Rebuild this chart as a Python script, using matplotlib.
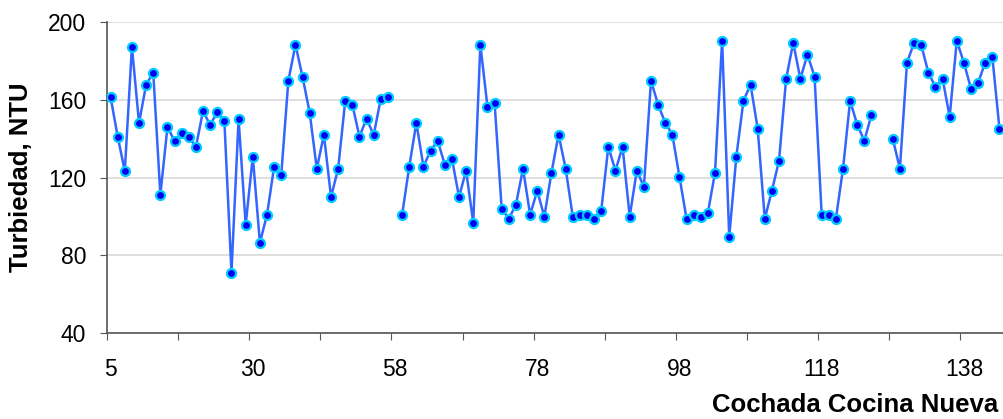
import numpy as np
import matplotlib
matplotlib.use('Agg')
import matplotlib.pyplot as plt

plt.rcParams['font.family'] = ['Liberation Sans', 'DejaVu Sans']

# turbidity per batch (category index), nan = no data
turbiedad = [161.3, 141, 123.3, 187.2, 148, 167.7, 173.8, 111.2, 145.9, 138.7,
             142.8, 141, 135.7, 154.1, 147, 153.5, 149.2, 71.1, 150, 95.8,
             130.7, 86.5, 100.9, 125.6, 121.3, 169.7, 188.2, 171.6, 153.3, 124.5,
             142, 110, 124.5, 159.4, 157.4, 141, 150.2, 141.8, 160.5, 161.5,
             np.nan, 100.9, 125.6, 148.1, 125.6, 133.8, 138.9, 126.6, 129.7, 110.1,
             123.5, 96.8, 188.2, 156.4, 158.4, 104, 98.8, 106, 124.5, 100.9,
             113.2, 99.9, 122.5, 142, 124.5, 99.9, 100.9, 100.9, 98.8, 103,
             135.8, 123.5, 135.8, 99.9, 123.5, 115.3, 169.7, 157.4, 148.1, 142,
             120.4, 98.8, 100.9, 99.9, 101.9, 122.5, 190.2, 89.6, 130.7, 159.4,
             167.7, 145.1, 98.8, 113.2, 128.6, 170.7, 189.2, 170.7, 183.1, 171.8,
             100.9, 100.9, 98.8, 124.5, 159.4, 147.1, 138.9, 152.2, np.nan, np.nan,
             139.9, 124.5, 179, 189.2, 188.2, 173.8, 166.6, 170.7, 151.2, 190.2,
             179, 165.6, 168.7, 179, 182, 145.1]
etiquetas_x = ['5', '30', '58', '78', '98', '118', '138']
pos_etiquetas = [0, 20, 40, 60, 80, 100, 120]
yticks = [40, 80, 120, 160, 200]

x = np.arange(len(turbiedad))

fig = plt.figure(figsize=(10.04, 4.19), dpi=100)
ax = fig.add_axes([0.1066, 0.2045, 0.8924, 0.7437])

ax.plot(x, turbiedad, color='#3366ff', lw=1.8, marker='o', ms=6.5,
        mfc='#0000ee', mec='#00ccff', mew=1.6, zorder=3)

ax.set_xlim(-0.5, len(turbiedad) - 0.5)
ax.set_ylim(40, 200)
ax.set_yticks(yticks)
ax.yaxis.grid(True, color='#d9d9d9', lw=1.2)
ax.set_axisbelow(True)

# tick marks between categories, labels on categories
ax.set_xticks(np.arange(-0.5, len(turbiedad) - 1, 10))
ax.set_xticklabels([])
ax.set_xticks(pos_etiquetas, minor=True)
ax.set_xticklabels(etiquetas_x, minor=True)
ax.tick_params(axis='x', which='major', length=5, color='#555555')
ax.tick_params(axis='x', which='minor', length=0, pad=18, labelsize=16.5)
ax.tick_params(axis='y', length=5, color='#555555', pad=10, labelsize=16.5)

for s in ['top', 'right']:
    ax.spines[s].set_visible(False)
for s in ['left', 'bottom']:
    ax.spines[s].set_color('#555555')
    ax.spines[s].set_linewidth(1.2)

ax.set_ylabel('Turbiedad, NTU', fontsize=18.5, fontweight='bold')
ax.yaxis.set_label_coords(-0.083, 0.5)
fig.text(0.994, 0.033, 'Cochada Cocina Nueva', ha='right', va='center',
         fontsize=18.5, fontweight='bold')

fig.savefig('out.png', dpi=100)
